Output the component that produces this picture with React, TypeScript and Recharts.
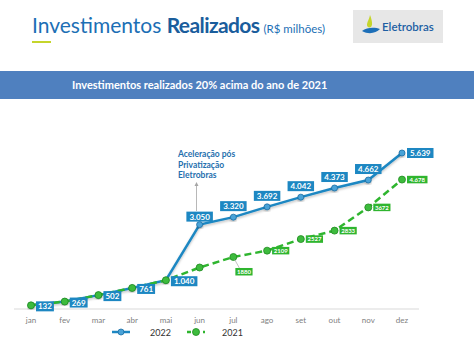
import { Line, LineChart, XAxis, YAxis, LabelList } from "recharts"

const months = ["jan", "fev", "mar", "abr", "mai", "jun", "jul", "ago", "set", "out", "nov", "dez"]
const inv2022 = [132, 269, 502, 761, 1040, 3050, 3320, 3692, 4042, 4373, 4662, 5639]
const inv2021 = [132, 269, 502, 761, 1040, 1500, 1880, 2109, 2527, 2833, 3672, 4678]
const labels2021 = ["", "", "", "", "", "", "1880", "2109", "2527", "2833", "3672", "4.678"]

const data = months.map((m, i) => ({ month: m, y2022: inv2022[i], y2021: inv2021[i] }))

const BLUE = "#1d87c2"
const GREEN = "#2fb52f"
const FONT = "Lato, 'Open Sans', sans-serif"

const fmt = (v: number) => String(v).replace(/\B(?=(\d{3})+(?!\d))/g, ".")

const BlueLabel = (props: any) => {
  const { x, y, value, index } = props
  const text = fmt(value)
  const w = text.length * 4.3 + 5
  const h = 10
  let bx = x + 5
  let by = y + 1 - h / 2
  if (index >= 5 && index <= 10) {
    bx = x - w / 2
    by = y - 6 - h
    if (index === 5) by = y - 3 - h
  }
  if (index === 11) by = y - h / 2
  return (
    <g>
      <rect x={bx} y={by} width={w} height={h} fill={BLUE} />
      <text x={bx + w / 2} y={by + h / 2 + 3} textAnchor="middle" fill="#fff" fontSize={8} fontWeight={700} fontFamily={FONT}>
        {text}
      </text>
    </g>
  )
}

const GreenLabel = (props: any) => {
  const { x, y, index } = props
  const text = labels2021[index]
  if (!text) return null
  const w = text.length * 3.3 + 4
  const h = 7.5
  let bx = x + 5
  let by = y - h / 2
  if (index === 6) {
    bx = x + 2
    by = y + 11
  }
  return (
    <g>
      {index === 6 && <line x1={x + 1} y1={y + 2} x2={x + 6} y2={y + 11} stroke="#999" strokeWidth={0.6} />}
      <rect x={bx} y={by} width={w} height={h} fill={GREEN} />
      <text x={bx + w / 2} y={by + h / 2 + 2.2} textAnchor="middle" fill="#fff" fontSize={6} fontWeight={700} fontFamily={FONT}>
        {text}
      </text>
    </g>
  )
}

export default function App() {
  return (
    <div style={{ position: "absolute", left: 0, top: 0, width: 474, height: 359, background: "#fff", fontFamily: FONT }}>
      {/* title */}
      <div style={{ position: "absolute", left: 32, top: 12, whiteSpace: "nowrap", color: "#1c6fb5" }}>
        <span style={{ fontSize: 21 }}>Investimentos </span>
        <span style={{ fontSize: 21, fontWeight: 700, color: "#1a5d9c", letterSpacing: -0.6 }}>Realizados</span>
        <span style={{ fontSize: 11.5, color: "#1c6fb5", marginLeft: 4 }}>(R$ milhões)</span>
      </div>
      <div style={{ position: "absolute", left: 32, top: 41, width: 19, height: 2, background: "#c5d52b" }} />

      {/* logo */}
      <div style={{ position: "absolute", left: 353, top: 10, width: 90, height: 33, background: "#e7e7e7" }}>
        <svg width={20} height={24} style={{ position: "absolute", left: 8, top: 4 }}>
          <path d="M9 1 C8 6 6 8 6 11 C6 13 8 14 10 13 C12 11 11 6 9 1 Z" fill="#c5d52b" />
          <path d="M1 17 C6 13 14 13 19 15 C15 19 8 21 1 17 Z" fill="#1d6fb8" />
        </svg>
        <span style={{ position: "absolute", left: 29, top: 10, fontSize: 11.5, color: "#1d5fa3", fontWeight: 600 }}>Eletrobras</span>
      </div>

      {/* banner */}
      <div style={{ position: "absolute", left: 0, top: 71, width: 474, height: 28, background: "#4f80bf" }}>
        <span style={{ position: "absolute", left: 72, top: 7, fontSize: 11, fontWeight: 700, color: "#fff", whiteSpace: "nowrap" }}>
          Investimentos realizados 20% acima do ano de 2021
        </span>
      </div>

      <div style={{ position: "absolute", left: 0, top: 0 }}>
        <LineChart width={474} height={359} data={data} margin={{ top: 143, right: 55, left: 14, bottom: 36 }}>
          <defs>
            <filter id="shadow" x="-10%" y="-10%" width="120%" height="130%">
              <feDropShadow dx="0" dy="1.5" stdDeviation="1" floodColor="#000" floodOpacity="0.25" />
            </filter>
          </defs>
          <XAxis
            dataKey="month"
            height={14}
            padding={{ left: 17, right: 17 }}
            tickLine={false}
            axisLine={{ stroke: "#d9d9d9" }}
            tick={{ fill: "#808080", fontSize: 8, fontFamily: FONT }}
          />
          <YAxis hide domain={[0, 6000]} />
          <Line
            dataKey="y2022"
            stroke={BLUE}
            strokeWidth={2.5}
            filter="url(#shadow)"
            dot={{ r: 3, fill: "#4aa3d8", stroke: "#1c6fa5", strokeWidth: 0.8 }}
            isAnimationActive={false}
          >
            <LabelList dataKey="y2022" content={BlueLabel} />
          </Line>
          <Line
            dataKey="y2021"
            stroke={GREEN}
            strokeWidth={2.5}
            strokeDasharray="7 4"
            dot={{ r: 3.5, fill: "#3dbb3d", stroke: "#1f8a1f", strokeWidth: 0.8, strokeDasharray: "" }}
            isAnimationActive={false}
          >
            <LabelList dataKey="y2021" content={GreenLabel} />
          </Line>
          {/* annotation */}
          <text x={178} y={157} fill="#1f6fae" fontSize={8.5} fontWeight={700} fontFamily={FONT}>
            <tspan x={178} dy={0}>Aceleração pós</tspan>
            <tspan x={178} dy={10.5}>Privatização</tspan>
            <tspan x={178} dy={10.5}>Eletrobras</tspan>
          </text>
          <line x1={196.5} y1={185} x2={196.5} y2={211} stroke="#a6a6a6" strokeWidth={0.8} />
          <path d="M194.5 186 L196.5 182 L198.5 186 Z" fill="#a6a6a6" />
        </LineChart>
      </div>

      {/* legend */}
      <svg width={474} height={20} style={{ position: "absolute", left: 0, top: 324 }}>
        <line x1={112} y1={8} x2={130} y2={8} stroke={BLUE} strokeWidth={2.5} />
        <circle cx={121} cy={8} r={3} fill="#4aa3d8" stroke="#1c6fa5" strokeWidth={0.8} />
        <text x={150} y={12} fontSize={9} fill="#333" fontFamily={FONT}>2022</text>
        <line x1={187} y1={8} x2={205} y2={8} stroke={GREEN} strokeWidth={2.5} strokeDasharray="4 4" />
        <circle cx={196} cy={8} r={3.5} fill="#3dbb3d" stroke="#1f8a1f" strokeWidth={0.8} />
        <text x={222} y={12} fontSize={9} fill="#333" fontFamily={FONT}>2021</text>
      </svg>
    </div>
  )
}
